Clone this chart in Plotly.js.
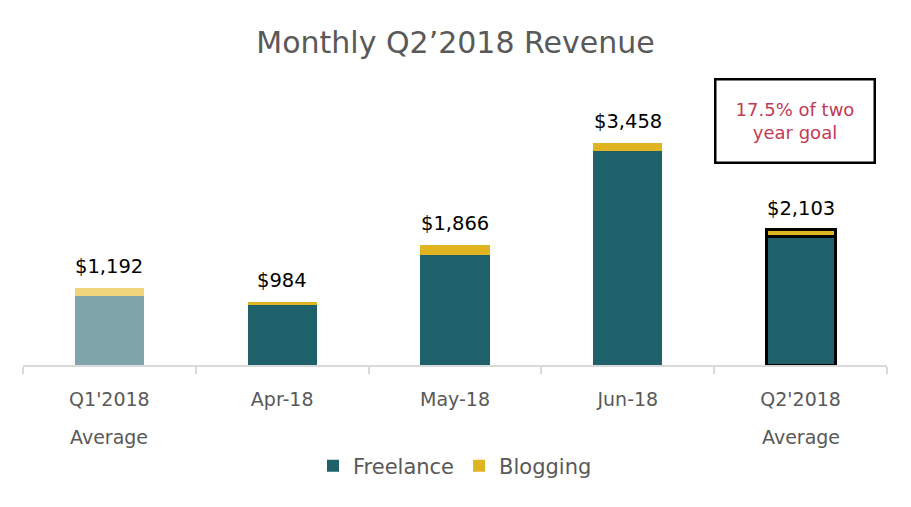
<!DOCTYPE html>
<html>
<head>
<meta charset="utf-8">
<script src="https://cdn.plot.ly/plotly-3.0.1.min.js"></script>
<style>html,body{margin:0;padding:0;background:#fff;}#chart{width:911px;height:507px;}</style>
</head>
<body>
<div id="chart"></div>
<script>
const categories = ["Q1'2018 Average", "Apr-18", "May-18", "Jun-18", "Q2'2018 Average"];
const tickLines1 = ["Q1'2018", "Apr-18", "May-18", "Jun-18", "Q2'2018"];
const tickLines2 = ["Average", "", "", "", "Average"];
const freelance = [1075, 939, 1713, 3333, 1995];
const blogging = [117, 45, 153, 125, 108];
const totals = [1192, 984, 1866, 3458, 2103];
const goalNote = "17.5% of two<br>year goal";

const FONT = "DejaVu Sans, sans-serif";
const teal = "#1F616B", tealLight = "#7FA5AA";
const gold = "#E0B420", goldLight = "#EFD47C";
const lineW = categories.map((c, i) => i === categories.length - 1 ? 3 : 0);

const rest = categories.slice(1);
const traces = [
  {type: "bar", name: "Freelance", x: rest, y: freelance.slice(1), width: 0.4,
   marker: {color: teal, line: {color: "#000", width: lineW.slice(1)}}, hoverinfo: "skip"},
  {type: "bar", name: "Blogging", x: rest, y: blogging.slice(1), width: 0.4,
   marker: {color: gold, line: {color: "#000", width: lineW.slice(1)}}, hoverinfo: "skip"},
  {type: "bar", name: "Freelance", x: categories.slice(0, 1), y: freelance.slice(0, 1), width: 0.4,
   marker: {color: tealLight}, showlegend: false, hoverinfo: "skip"},
  {type: "bar", name: "Blogging", x: categories.slice(0, 1), y: blogging.slice(0, 1), width: 0.4,
   marker: {color: goldLight}, showlegend: false, hoverinfo: "skip"}
];

const annotations = [];
categories.forEach((c, i) => {
  annotations.push({x: c, y: totals[i], xref: "x", yref: "y", yanchor: "bottom", yshift: 8,
    text: "$" + totals[i].toLocaleString("en-US"), showarrow: false,
    font: {family: FONT, size: 19.5, color: "#000"}});
  if (tickLines2[i]) {
    annotations.push({x: c, y: 0, xref: "x", yref: "y", yanchor: "middle", yshift: -72,
      text: tickLines2[i], showarrow: false, font: {family: FONT, size: 19, color: "#595959"}});
  }
});
annotations.push({xref: "paper", yref: "paper", x: 0.8935, y: 0.949, xanchor: "center", yanchor: "middle",
  text: goalNote, showarrow: false, align: "center", width: 157, height: 81, borderpad: 0,
  bordercolor: "#000", borderwidth: 2.5, bgcolor: "#fff",
  font: {family: FONT, size: 18, color: "#C33A55"}});

const layout = {
  width: 911, height: 507,
  margin: {l: 23, r: 24, t: 108, b: 142},
  paper_bgcolor: "#fff", plot_bgcolor: "#fff",
  barmode: "stack",
  title: {text: "Monthly Q2\u20192018 Revenue", x: 0.5, xanchor: "center", y: 0.917, yanchor: "middle",
    font: {family: FONT, size: 30, color: "#595959"}},
  xaxis: {type: "category", categoryorder: "array", categoryarray: categories,
    tickmode: "array", tickvals: categories, ticktext: tickLines1,
    showline: true, linecolor: "#D9D9D9", linewidth: 2, ticks: "outside", tickson: "boundaries",
    ticklen: 7, tickwidth: 2, tickcolor: "#D9D9D9", ticklabelstandoff: 16,
    tickfont: {family: FONT, size: 19, color: "#595959"}, showgrid: false, zeroline: false, fixedrange: true},
  yaxis: {range: [0, 4000], visible: false, showgrid: false, zeroline: false, fixedrange: true},
  showlegend: true,
  legend: {orientation: "h", x: 0.5, xanchor: "center", y: -0.393, yanchor: "middle", traceorder: "normal",
    font: {family: FONT, size: 21, color: "#595959"}, itemwidth: 30},
  annotations: annotations
};

Plotly.newPlot("chart", traces, layout, {displayModeBar: false, staticPlot: true});
</script>
</body>
</html>
